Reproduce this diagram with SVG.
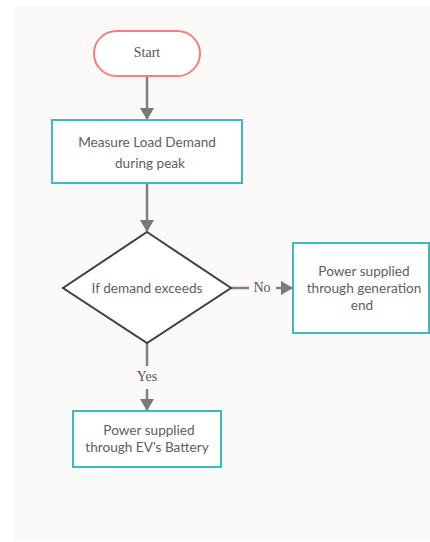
<svg xmlns="http://www.w3.org/2000/svg" width="430" height="542" viewBox="0 0 430 542">
<defs>
<style>
.proc{fill:#ffffff;stroke:#3bbcb8;stroke-width:2}
.t{font-family:Lato,"Liberation Sans",sans-serif;font-size:13.6px;fill:#606060;text-anchor:middle}
.s{font-family:"Liberation Serif",serif;font-size:14px;fill:#555555;text-anchor:middle}
.c{stroke:#808080;stroke-width:2.5;fill:none}
</style>
<marker id="ah" markerWidth="12" markerHeight="14" refX="11" refY="7" orient="auto" markerUnits="userSpaceOnUse">
<path d="M0,0 L12,7 L0,14 z" fill="#7a7a7a"/>
</marker>
</defs>
<rect x="0" y="0" width="430" height="542" fill="#ffffff"/>
<rect x="14" y="7" width="416" height="534" fill="#fbfaf9"/>
<g id="connectors">
<line class="c" x1="147" y1="76" x2="147" y2="119" marker-end="url(#ah)"/>
<line class="c" x1="147" y1="183" x2="147" y2="231" marker-end="url(#ah)"/>
<line class="c" x1="231" y1="288" x2="249" y2="288"/>
<line class="c" x1="276" y1="288" x2="292" y2="288" marker-end="url(#ah)"/>
<text class="s" x="262" y="292">No</text>
<line class="c" x1="147" y1="343" x2="147" y2="366"/>
<line class="c" x1="147" y1="389" x2="147" y2="410" marker-end="url(#ah)"/>
<text class="s" x="147" y="381">Yes</text>
</g>
<g id="start">
<rect x="94" y="31" width="106" height="45" rx="22.5" fill="#ffffff" stroke="#f08080" stroke-width="2"/>
<text class="s" x="147" y="57">Start</text>
</g>
<g id="measure">
<rect class="proc" x="52" y="120" width="190" height="63"/>
<text class="t" x="147" y="147">Measure Load Demand</text>
<text class="t" x="150" y="168">during  peak</text>
</g>
<g id="decision">
<polygon points="147,232 231,288 147,343 63,288" fill="#ffffff" stroke="#404040" stroke-width="2"/>
<text class="t" x="147" y="293">If  demand exceeds</text>
</g>
<g id="generation">
<rect class="proc" x="293" y="243" width="136" height="90"/>
<text class="t" x="364" y="276">Power supplied</text>
<text class="t" x="364" y="293">through generation</text>
<text class="t" x="362" y="310">end</text>
</g>
<g id="battery">
<rect class="proc" x="73" y="411" width="148" height="56"/>
<text class="t" x="149" y="435">Power supplied</text>
<text class="t" x="147" y="452">through EV's Battery</text>
</g>
</svg>
